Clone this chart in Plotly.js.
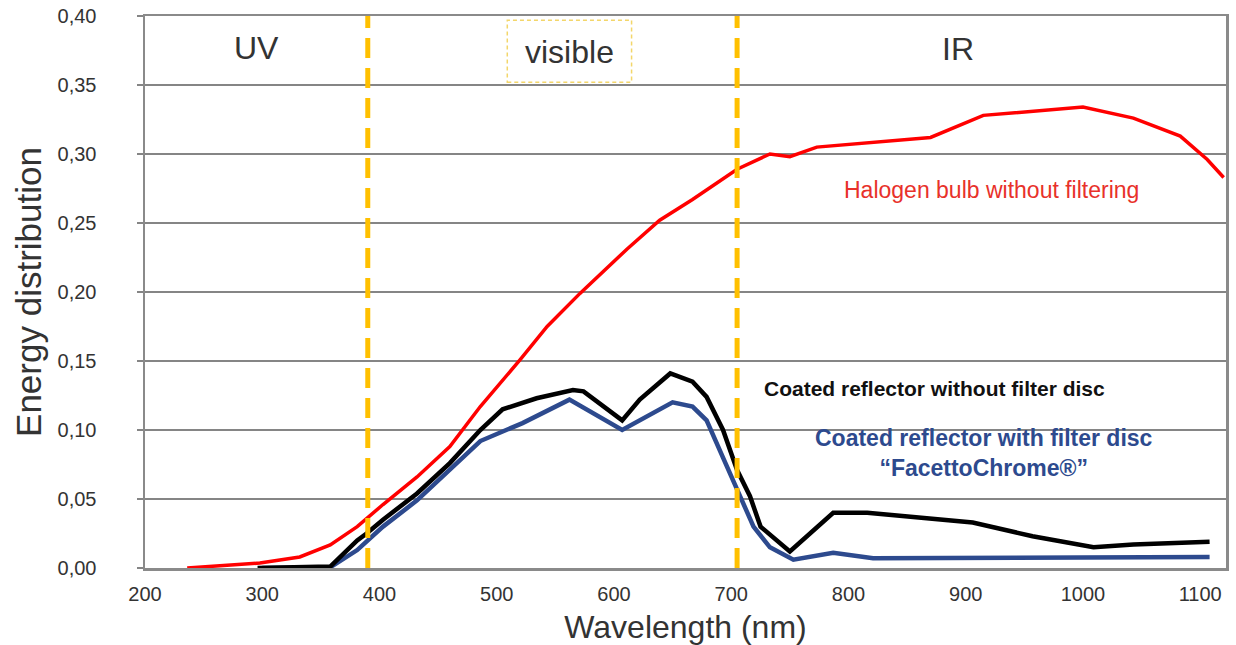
<!DOCTYPE html>
<html>
<head>
<meta charset="utf-8">
<script src="https://cdn.plot.ly/plotly-3.0.1.min.js"></script>
<style>html,body{margin:0;padding:0;background:#fff;}#chart{width:1236px;height:645px;}</style>
</head>
<body>
<div id="chart"></div>
<script>
// Wavelength (nm) / energy distribution readings
const wlRed = [236, 260, 298, 332, 358, 381, 403, 432, 460, 486, 520, 543, 571, 611, 639, 667, 705, 733, 750, 773, 816, 870, 915, 957, 1000, 1043, 1083, 1106, 1120];
const halogen = [0, 0.0015, 0.0036, 0.008, 0.0167, 0.030, 0.046, 0.066, 0.088, 0.117, 0.151, 0.175, 0.199, 0.231, 0.252, 0.267, 0.289, 0.300, 0.298, 0.305, 0.308, 0.312, 0.328, 0.331, 0.334, 0.326, 0.313, 0.296, 0.283];

const wlBlack = [296, 358, 381, 389, 403, 432, 460, 486, 505, 534, 565, 574, 607, 622, 648, 667, 679, 693, 705, 716, 725, 750, 787, 816, 906, 957, 1009, 1043, 1108];
const coatedNoFilter = [0, 0.001, 0.020, 0.025, 0.035, 0.054, 0.076, 0.100, 0.115, 0.123, 0.129, 0.128, 0.107, 0.122, 0.141, 0.135, 0.124, 0.100, 0.071, 0.052, 0.030, 0.012, 0.040, 0.040, 0.033, 0.023, 0.015, 0.017, 0.019];

const wlBlue = [300, 358, 381, 403, 432, 460, 486, 522, 562, 607, 650, 667, 679, 693, 705, 719, 733, 753, 787, 821, 1108];
const coatedFilter = [0, 0.0005, 0.013, 0.030, 0.049, 0.071, 0.092, 0.105, 0.122, 0.100, 0.120, 0.117, 0.107, 0.080, 0.057, 0.030, 0.015, 0.006, 0.011, 0.007, 0.008];

const regionBounds = [390, 705];
const regionLabels = ["UV", "visible", "IR"];
const seriesLabels = ["Halogen bulb without filtering", "Coated reflector without filter disc", "Coated reflector with filter disc<br>“FacettoChrome®”"];

const FONT = "Liberation Sans, Arial, sans-serif";
const BLUE = "#2d4a8e";

const traces = [
  {x: wlRed, y: halogen, mode: "lines", line: {color: "#ff0000", width: 3.5}, name: seriesLabels[0]},
  {x: wlBlue, y: coatedFilter, mode: "lines", line: {color: BLUE, width: 4.5}, name: "filter"},
  {x: wlBlack, y: coatedNoFilter, mode: "lines", line: {color: "#000000", width: 4.5}, name: "nofilter"}
];

const shapes = regionBounds.map(b => ({
  type: "line", xref: "x", yref: "paper", x0: b, x1: b, y0: 0, y1: 1,
  line: {color: "#ffc000", width: 5, dash: "20px,10px"}
}));
shapes.push({type: "rect", xref: "x", yref: "y", x0: 509, x1: 615, y0: 0.352, y1: 0.397,
  line: {color: "#f3d66a", width: 1.5, dash: "4px,3px"}, fillcolor: "rgba(0,0,0,0)"});

const annotations = [
  {x: 295, y: 0.377, text: regionLabels[0], font: {size: 32, color: "#333"}},
  {x: 562, y: 0.374, text: regionLabels[1], font: {size: 32, color: "#333"}},
  {x: 893, y: 0.376, text: regionLabels[2], font: {size: 32, color: "#333"}},
  {x: 922, y: 0.274, text: seriesLabels[0], font: {size: 23, color: "#e8312a"}},
  {x: 873, y: 0.130, text: "<b>" + seriesLabels[1] + "</b>", font: {size: 21, color: "#111"}},
  {x: 916, y: 0.083, text: "<b>" + seriesLabels[2] + "</b>", font: {size: 23, color: BLUE}}
].map(a => Object.assign({xref: "x", yref: "y", showarrow: false, xanchor: "center", yanchor: "middle"}, a));

const layout = {
  width: 1236, height: 645,
  margin: {l: 145, r: 10, t: 16, b: 77},
  paper_bgcolor: "#fff", plot_bgcolor: "#fff",
  separators: ", ",
  showlegend: false,
  font: {family: FONT, color: "#333"},
  xaxis: {
    range: [200, 1122], tick0: 200, dtick: 100, showgrid: false, zeroline: false,
    showline: true, linecolor: "#8a8a8a", linewidth: 2.5, mirror: true,
    ticks: "", tickfont: {size: 20, color: "#333"}, ticklabelstandoff: 6,
    title: {text: "Wavelength (nm)", font: {size: 32, color: "#333"}, standoff: 12}
  },
  yaxis: {
    range: [0, 0.40], dtick: 0.05, tickformat: ".2f", zeroline: false,
    showgrid: true, gridcolor: "#858585", gridwidth: 1.5,
    showline: true, linecolor: "#8a8a8a", linewidth: 2.5, mirror: true,
    ticks: "outside", ticklen: 6, tickcolor: "#858585", tickwidth: 1.5,
    tickfont: {size: 20, color: "#333"}, ticklabelstandoff: 36,
    title: {text: "Energy distribution", font: {size: 35, color: "#333"}, standoff: 6}
  },
  shapes: shapes,
  annotations: annotations
};

Plotly.newPlot("chart", traces, layout, {displayModeBar: false, staticPlot: true});
</script>
</body>
</html>
